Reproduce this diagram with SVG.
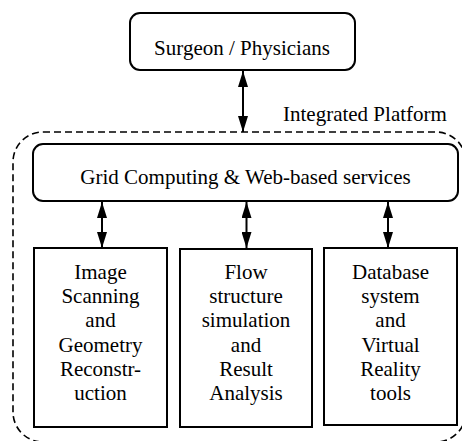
<svg xmlns="http://www.w3.org/2000/svg" width="462" height="441" viewBox="0 0 462 441">
<style>
.box{fill:#fff;stroke:#000;stroke-width:2}
.t{font-family:"Liberation Serif","Times New Roman",serif;font-size:21px;fill:#000;text-anchor:middle}
.c{stroke:#000;stroke-width:2;fill:none;marker-start:url(#ah);marker-end:url(#ah)}
.dash{fill:none;stroke:#000;stroke-width:1.6;stroke-dasharray:7 4}
</style>
<defs>
<marker id="ah" markerUnits="userSpaceOnUse" markerWidth="16" markerHeight="10" refX="16" refY="5" orient="auto-start-reverse" viewBox="0 0 16 10">
<path d="M0,0 L16,5 L0,10 z" fill="#000"/>
</marker>
</defs>
<rect class="dash" x="13" y="132" width="453" height="310" rx="30" ry="30"/>
<text class="t" x="283" y="121" style="text-anchor:start">Integrated Platform</text>
<g id="surgeon">
<rect class="box" x="130" y="13" width="225" height="57" rx="10" ry="10"/>
<text class="t" x="242" y="55">Surgeon / Physicians</text>
</g>
<g id="grid">
<rect class="box" x="33" y="144" width="425" height="57" rx="10" ry="10"/>
<text class="t" x="245.5" y="184">Grid Computing &amp; Web-based services</text>
</g>
<g id="image">
<rect class="box" x="34" y="248" width="133" height="179"/>
<text class="t" x="100.5" y="279">Image</text>
<text class="t" x="100.5" y="303">Scanning</text>
<text class="t" x="100.5" y="327">and</text>
<text class="t" x="100.5" y="351.5">Geometry</text>
<text class="t" x="100.5" y="375.5">Reconstr-</text>
<text class="t" x="100.5" y="400">uction</text>
</g>
<g id="flow">
<rect class="box" x="180" y="249" width="132" height="178"/>
<text class="t" x="246" y="279">Flow</text>
<text class="t" x="246" y="303">structure</text>
<text class="t" x="246" y="327">simulation</text>
<text class="t" x="246" y="351.5">and</text>
<text class="t" x="246" y="375.5">Result</text>
<text class="t" x="246" y="400">Analysis</text>
</g>
<g id="database">
<rect class="box" x="324" y="248" width="133" height="177"/>
<text class="t" x="390.5" y="279">Database</text>
<text class="t" x="390.5" y="303">system</text>
<text class="t" x="390.5" y="327">and</text>
<text class="t" x="390.5" y="351.5">Virtual</text>
<text class="t" x="390.5" y="375.5">Reality</text>
<text class="t" x="390.5" y="400">tools</text>
</g>
<g id="connectors">
<line class="c" x1="243" y1="71" x2="243" y2="132"/>
<line class="c" x1="102" y1="202" x2="102" y2="248"/>
<line class="c" x1="246.5" y1="202" x2="246.5" y2="248"/>
<line class="c" x1="388" y1="202" x2="388" y2="248"/>
</g>
</svg>
